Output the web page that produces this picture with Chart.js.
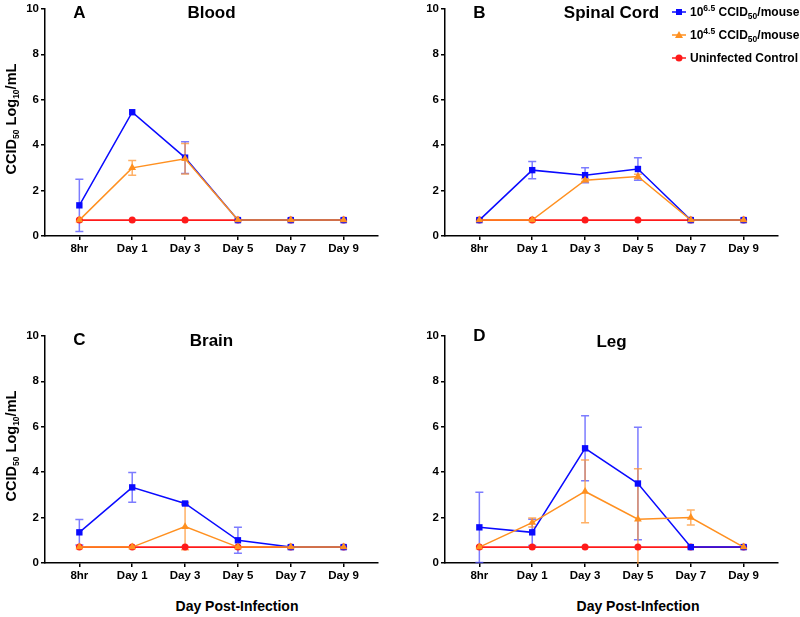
<!DOCTYPE html>
<html><head><meta charset="utf-8">
<script src="https://cdn.jsdelivr.net/npm/chart.js@4.4.0/dist/chart.umd.min.js"></script>
<style>
body{margin:0;background:#fff;width:800px;height:617px;position:relative;overflow:hidden;font-family:'Liberation Sans',Arial,Helvetica,sans-serif;font-weight:bold;color:#000}
canvas{position:absolute}
.ytitle{position:absolute;width:200px;height:16px;line-height:16px;text-align:center;font-size:14.5px;transform:rotate(-90deg);white-space:nowrap}
.xtitle{position:absolute;width:200px;height:16px;line-height:16px;text-align:center;font-size:14px;white-space:nowrap}
.leg{position:absolute;left:671px;height:16px;line-height:16px;font-size:12px;white-space:nowrap}
.leg svg{position:absolute;left:0;top:3px}
.leg span.t{position:absolute;left:19px;top:0}
sup,sub{font-size:8.5px;line-height:0;position:relative;vertical-align:baseline}
sup{top:-5px}
sub{top:3px}
</style>
</head>
<body>
<canvas id="cA" width="400" height="260" style="left:0;top:0"></canvas>
<canvas id="cB" width="400" height="260" style="left:400px;top:0"></canvas>
<canvas id="cC" width="400" height="260" style="left:0;top:327px"></canvas>
<canvas id="cD" width="400" height="260" style="left:400px;top:327px"></canvas>

<div class="ytitle" style="left:-89px;top:111px">CCID<sub>50</sub> Log<sub>10</sub>/mL</div>
<div class="ytitle" style="left:-89px;top:438px">CCID<sub>50</sub> Log<sub>10</sub>/mL</div>
<div class="xtitle" style="left:137px;top:598px">Day Post-Infection</div>
<div class="xtitle" style="left:538px;top:598px">Day Post-Infection</div>

<div class="leg" style="top:4px"><svg width="16" height="10"><line x1="1" y1="5" x2="15" y2="5" stroke="#0a0aff" stroke-width="1.5"/><rect x="5" y="2" width="6" height="6" fill="#0a0aff"/></svg><span class="t">10<sup>6.5</sup> CCID<sub>50</sub>/mouse</span></div>
<div class="leg" style="top:27px"><svg width="16" height="10"><line x1="1" y1="5" x2="15" y2="5" stroke="#ff9020" stroke-width="1.5"/><polygon points="8,1 12,8 4,8" fill="#ff9020"/></svg><span class="t">10<sup>4.5</sup> CCID<sub>50</sub>/mouse</span></div>
<div class="leg" style="top:50px"><svg width="16" height="10"><line x1="1" y1="5" x2="15" y2="5" stroke="#ff1a1a" stroke-width="1.5"/><circle cx="8" cy="5" r="3.5" fill="#ff1a1a"/></svg><span class="t">Uninfected Control</span></div>

<script>
// ---- data ----
const categories = ['8hr', 'Day 1', 'Day 3', 'Day 5', 'Day 7', 'Day 9'];
const yTicks = [0, 2, 4, 6, 8, 10];
const panelLetters = ['A', 'B', 'C', 'D'];
const panelTitles = ['Blood', 'Spinal Cord', 'Brain', 'Leg'];
const seriesNames = ['10^6.5 CCID50/mouse', '10^4.5 CCID50/mouse', 'Uninfected Control'];

const bloodHigh    = [1.35, 5.45, 3.45, 0.7, 0.7, 0.7];
const bloodHighErr = [1.15, 0, 0.70, 0, 0, 0];
const bloodLow     = [0.7, 3.0, 3.40, 0.7, 0.7, 0.7];
const bloodLowErr  = [0, 0.32, 0.67, 0, 0, 0];
const bloodCtrl    = [0.7, 0.7, 0.7, 0.7, 0.7, 0.7];

const spinalHigh    = [0.7, 2.90, 2.68, 2.95, 0.7, 0.7];
const spinalHighErr = [0, 0.38, 0.33, 0.50, 0, 0];
const spinalLow     = [0.7, 0.7, 2.46, 2.62, 0.7, 0.7];
const spinalLowErr  = [0, 0, 0.06, 0.10, 0, 0];
const spinalCtrl    = [0.7, 0.7, 0.7, 0.7, 0.7, 0.7];

const brainHigh    = [1.35, 3.33, 2.62, 1.00, 0.7, 0.7];
const brainHighErr = [0.56, 0.65, 0.05, 0.57, 0, 0];
const brainLow     = [0.7, 0.7, 1.60, 0.7, 0.7, 0.7];
const brainLowErr  = [0, 0, 1.02, 0, 0, 0];
const brainCtrl    = [0.7, 0.7, 0.7, 0.7, 0.7, 0.7];

const legHigh    = [1.57, 1.35, 5.05, 3.50, 0.7, 0.7];
const legHighErr = [1.55, 0.58, 1.43, 2.48, 0, 0];
const legLow     = [0.7, 1.78, 3.15, 1.93, 2.00, 0.7];
const legLowErr  = [0, 0.20, 1.38, 2.22, 0.33, 0];
const legCtrl    = [0.7, 0.7, 0.7, 0.7, 0.7, 0.7];

// ---- styles ----
const FONT = "'Liberation Sans', Arial, Helvetica, sans-serif";
const BLUE = '#0a0aff', ORANGE = '#ff9020', RED = '#ff1a1a';

const errorBars = {
  id: 'errorBars',
  beforeDatasetsDraw(chart) {
    const {ctx, chartArea, scales: {x, y}} = chart;
    ctx.save();
    ctx.beginPath();
    ctx.rect(chartArea.left, chartArea.top - 1, chartArea.width, chartArea.height + 2);
    ctx.clip();
    chart.data.datasets.slice().reverse().forEach(ds => {
      if (!ds.errors) return;
      ctx.strokeStyle = ds.errorColor;
      ctx.lineWidth = 1.5;
      ds.data.forEach((p, i) => {
        const e = ds.errors[i];
        if (!e) return;
        const px = x.getPixelForValue(p.x);
        const top = y.getPixelForValue(p.y + e);
        const bot = y.getPixelForValue(p.y - e);
        ctx.beginPath();
        ctx.moveTo(px, top); ctx.lineTo(px, bot);
        ctx.moveTo(px - 4, top); ctx.lineTo(px + 4, top);
        ctx.moveTo(px - 4, bot); ctx.lineTo(px + 4, bot);
        ctx.stroke();
      });
    });
    ctx.restore();
  }
};

const panelText = {
  id: 'panelText',
  afterDraw(chart, args, opts) {
    const {ctx, chartArea, scales: {x}} = chart;
    ctx.save();
    ctx.fillStyle = '#000';
    ctx.textBaseline = 'middle';
    ctx.textAlign = 'center';
    ctx.font = 'bold 17px ' + FONT;
    ctx.fillText(opts.letter, x.getPixelForValue(0), chartArea.top + opts.dyL);
    ctx.fillText(opts.title, (chartArea.left + chartArea.right) / 2, chartArea.top + opts.dyT);
    ctx.restore();
  }
};

function pts(arr) { return arr.map((v, i) => ({x: i, y: v})); }

function makePanel(id, idx, high, highErr, low, lowErr, ctrl, dyL, dyT) {
  new Chart(document.getElementById(id), {
    type: 'line',
    data: {
      datasets: [
        {label: seriesNames[1], data: pts(low), errors: lowErr, errorColor: 'rgba(255,150,50,0.75)',
         borderColor: ORANGE, backgroundColor: ORANGE, borderWidth: 1.5, pointStyle: 'triangle',
         pointRadius: 4.5, pointBorderWidth: 0, order: 0},
        {label: seriesNames[0], data: pts(high), errors: highErr, errorColor: 'rgba(80,80,255,0.75)',
         borderColor: BLUE, backgroundColor: BLUE, borderWidth: 1.5, pointStyle: 'rect',
         pointRadius: 4.5, pointBorderWidth: 0, order: 1},
        {label: seriesNames[2], data: pts(ctrl),
         borderColor: RED, backgroundColor: RED, borderWidth: 1.8, pointStyle: 'circle',
         pointRadius: 3.5, pointBorderWidth: 0, order: 2}
      ]
    },
    options: {
      responsive: false,
      animation: false,
      devicePixelRatio: 1,
      layout: {padding: {top: 7, right: 22, left: 0, bottom: 0}},
      plugins: {
        legend: {display: false},
        tooltip: {enabled: false},
        panelText: {letter: panelLetters[idx], title: panelTitles[idx], dyL: dyL, dyT: dyT}
      },
      scales: {
        x: {
          type: 'linear', min: -0.65, max: 5.65,
          afterBuildTicks(scale) { scale.ticks = categories.map((c, i) => ({value: i})); },
          afterFit(scale) { scale.height = 24; },
          ticks: {
            callback: v => categories[v],
            color: '#000', font: {family: FONT, weight: 'bold', size: 11.5}, padding: 2,
            maxRotation: 0, autoSkip: false
          },
          grid: {display: true, drawOnChartArea: false, drawTicks: true, tickLength: 4, color: '#000', lineWidth: 1.5},
          border: {display: true, color: '#000', width: 1.5}
        },
        y: {
          min: 0, max: 10,
          afterBuildTicks(scale) { scale.ticks = yTicks.map(v => ({value: v})); },
          afterFit(scale) { scale.width = 45; },
          ticks: {color: '#000', font: {family: FONT, weight: 'bold', size: 11.5}, padding: 2},
          grid: {display: true, drawOnChartArea: false, drawTicks: true, tickLength: 4, color: '#000', lineWidth: 1.5},
          border: {display: true, color: '#000', width: 1.5}
        }
      }
    },
    plugins: [errorBars, panelText]
  });
}

makePanel('cA', 0, bloodHigh, bloodHighErr, bloodLow, bloodLowErr, bloodCtrl, 4, 4);
makePanel('cB', 1, spinalHigh, spinalHighErr, spinalLow, spinalLowErr, spinalCtrl, 4, 4);
makePanel('cC', 2, brainHigh, brainHighErr, brainLow, brainLowErr, brainCtrl, 4, 5);
makePanel('cD', 3, legHigh, legHighErr, legLow, legLowErr, legCtrl, 0, 6);
</script>
</body></html>
